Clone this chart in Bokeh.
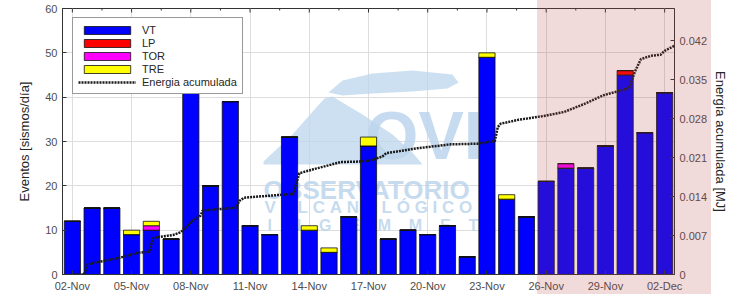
from bokeh.plotting import figure
from bokeh.models import (Range1d, LinearAxis, FixedTicker, Legend, LegendItem, Label,
                          ColumnDataSource, InlineStyleSheet, PolyAnnotation)
from bokeh.embed import file_html
from bokeh.resources import INLINE

# ---------------- data ----------------
dias = ["02-Nov", "03-Nov", "04-Nov", "05-Nov", "06-Nov", "07-Nov", "08-Nov", "09-Nov",
        "10-Nov", "11-Nov", "12-Nov", "13-Nov", "14-Nov", "15-Nov", "16-Nov", "17-Nov",
        "18-Nov", "19-Nov", "20-Nov", "21-Nov", "22-Nov", "23-Nov", "24-Nov", "25-Nov",
        "26-Nov", "27-Nov", "28-Nov", "29-Nov", "30-Nov", "01-Dec", "02-Dec"]
vt = [12, 15, 15, 9, 10, 8, 44, 20, 39, 11, 9, 31, 10, 5, 13, 29,
      8, 10, 9, 11, 4, 49, 17, 13, 21, 24, 24, 29, 45, 32, 41]
lp = [0, 0, 0, 0, 0, 0, 0, 0, 0, 0, 0, 0, 0, 0, 0, 0,
      0, 0, 0, 0, 0, 0, 0, 0, 0, 0, 0, 0, 1, 0, 0]
tor = [0, 0, 0, 0, 1, 0, 0, 0, 0, 0, 0, 0, 0, 0, 0, 0,
       0, 0, 0, 0, 0, 0, 0, 0, 0, 1, 0, 0, 0, 0, 0]
tre = [0, 0, 0, 1, 1, 0, 0, 0, 0, 0, 0, 0, 1, 1, 0, 2,
       0, 0, 0, 0, 0, 1, 1, 0, 0, 0, 0, 0, 0, 0, 0]

tick_pos = [0, 3, 6, 9, 12, 15, 18, 21, 24, 27, 30]
tick_labels = ["02-Nov", "05-Nov", "08-Nov", "11-Nov", "14-Nov", "17-Nov",
               "20-Nov", "23-Nov", "26-Nov", "29-Nov", "02-Dec"]
ev_ticks = [0, 10, 20, 30, 40, 50, 60]
en_ticks = [0, 0.007, 0.014, 0.021, 0.028, 0.035, 0.042]
en_tick_labels = ["0", "0.007", "0.014", "0.021", "0.028", "0.035", "0.042"]

# cumulative energy (days since 02-Nov, MJ)
energia_t = [0, 0.6, 0.75, 1.1, 2.4, 3.3, 3.9, 4.0, 4.1, 5.1, 5.5, 6.0, 6.5, 6.6, 8.3,
             8.45, 8.7, 11.2, 11.35, 11.5, 12.2, 13.6, 14.6, 15.1, 15.7, 15.9, 17.5,
             19.2, 20.5, 21.4, 21.55, 21.7, 22.6, 23.9, 24.9, 25.9, 26.9, 27.6, 28.2,
             28.5, 28.8, 29.3, 29.8, 30.0, 30.5]
energia_v = [0, 0, 0.0018, 0.0021, 0.0030, 0.0039, 0.0041, 0.0055, 0.0066, 0.0071,
             0.0076, 0.0094, 0.0106, 0.0115, 0.0120, 0.0132, 0.0138, 0.0145, 0.0165,
             0.0182, 0.0189, 0.0202, 0.0203, 0.0205, 0.0212, 0.0218, 0.0227, 0.0234,
             0.0235, 0.0240, 0.0265, 0.0271, 0.0278, 0.0285, 0.0292, 0.0306, 0.0322,
             0.0329, 0.0335, 0.0365, 0.0387, 0.0393, 0.0395, 0.0402, 0.0411]

shade_start = 23.55   # start of shaded period (days since 02-Nov)

FONT = "Liberation Sans"
TXT = "#4d4d4d"

W, H = 731, 294
BL, BR, BT, BB = 62, 57, 8, 18
X0, X1 = -0.5, 30.5
Y0, Y1 = 0, 60

src = ColumnDataSource(dict(x=list(range(len(dias))), dia=dias, vt=vt, lp=lp, tor=tor, tre=tre))
esrc = ColumnDataSource(dict(t=energia_t, e=energia_v))

# shaded period as a translucent overlay (extends beyond the frame like the reference)
frame_w = W - BL - BR
shade_left = BL + (shade_start - X0) / (X1 - X0) * frame_w
css = f"""
:host {{ position: relative; }}
:host::after {{
  content: ""; position: absolute; pointer-events: none; z-index: 50;
  left: {shade_left:.1f}px; top: 0px; width: {W - 20 - shade_left:.1f}px; height: {H}px;
  background: rgba(185, 70, 70, 0.2);
}}
"""

p = figure(width=W, height=H, output_backend="svg", toolbar_location=None,
           x_range=Range1d(X0, X1), y_range=Range1d(Y0, Y1),
           min_border_left=BL, min_border_right=BR, min_border_top=BT, min_border_bottom=BB)
p.stylesheets = [InlineStyleSheet(css=css)]
p.extra_y_ranges = {"en": Range1d(0, 0.0478)}
p.outline_line_color = "#333333"
p.background_fill_color = "white"
p.border_fill_color = "white"

# grid
p.xgrid.ticker = FixedTicker(ticks=tick_pos)
p.ygrid.ticker = FixedTicker(ticks=ev_ticks)
p.xgrid.grid_line_color = "#dddddd"
p.ygrid.grid_line_color = "#dddddd"

# watermark (logo + texts), in screen units from the frame's bottom-left
wm = "#bcd5ec"
volcano_x = [201, 230, 252, 262, 270, 280, 300, 330, 350, 360, 201]
volcano_y = [113, 140, 165, 176, 178, 172, 160, 140, 122, 110, 110]
cloud_x = [266, 280, 310, 350, 390, 396, 385, 350, 310, 280]
cloud_y = [182, 194, 201, 204, 200, 192, 186, 183, 181, 179]
p.add_layout(PolyAnnotation(xs=volcano_x, ys=volcano_y, xs_units="screen", ys_units="screen",
                            fill_color=wm, fill_alpha=0.75, line_alpha=0, level="underlay"))
p.add_layout(PolyAnnotation(xs=cloud_x, ys=cloud_y, xs_units="screen", ys_units="screen",
                            fill_color=wm, fill_alpha=0.75, line_alpha=0, level="underlay"))
for txt, x, y, fs in [("OVI", 303, 140, "68px"),
                      ("OBSERVATORIO", 201, 85, "26px"),
                      ("V\u00a0U\u00a0L\u00a0C\u00a0A\u00a0N\u00a0O\u00a0L\u00a0Ó\u00a0G\u00a0I\u00a0C\u00a0O", 202, 67, "17px"),
                      ("I\u00a0\u00a0\u00a0\u00a0N\u00a0\u00a0\u00a0\u00a0G\u00a0\u00a0\u00a0\u00a0E\u00a0\u00a0\u00a0\u00a0M\u00a0\u00a0\u00a0\u00a0M\u00a0\u00a0\u00a0\u00a0E\u00a0\u00a0\u00a0\u00a0T", 205, 49, "16px")]:
    p.add_layout(Label(x=x, y=y, x_units="screen", y_units="screen", text=txt,
                       text_font=FONT, text_font_style="bold", text_font_size=fs,
                       text_baseline="alphabetic",
                       text_color=wm, text_alpha=0.85, level="underlay"))

# bars
rs = p.vbar_stack(["vt", "lp", "tor", "tre"], x="x", width=0.82, source=src,
                  color=["#0000ff", "#ff0000", "#ff00ff", "#ffff00"],
                  line_color="#111111", line_width=0.8)

# energy line
ln = p.line("t", "e", source=esrc, y_range_name="en", line_color="#1a1a1a",
            line_width=2.5, line_dash="2 1")

# mirrored tick marks on the top edge
top_major = ColumnDataSource(dict(x=tick_pos, y0=[Y1] * len(tick_pos), y1=[Y1 - 0.9] * len(tick_pos)))
top_minor = ColumnDataSource(dict(x=[t + 1.5 for t in tick_pos[:-1]],
                                  y0=[Y1] * (len(tick_pos) - 1), y1=[Y1 - 0.45] * (len(tick_pos) - 1)))
p.segment(x0="x", y0="y0", x1="x", y1="y1", source=top_major, line_color="#333333", line_width=1)
p.segment(x0="x", y0="y0", x1="x", y1="y1", source=top_minor, line_color="#333333", line_width=1)

# axes
p.xaxis.ticker = FixedTicker(ticks=tick_pos)
p.xaxis.major_label_overrides = {t: l for t, l in zip(tick_pos, tick_labels)}
p.yaxis.ticker = FixedTicker(ticks=ev_ticks)
p.yaxis.axis_label = "Eventos [sismos/día]"

ax_r = LinearAxis(y_range_name="en", ticker=FixedTicker(ticks=en_ticks),
                  axis_label="Energía acumulada [MJ]")
ax_r.major_label_overrides = {t: l for t, l in zip(en_ticks, en_tick_labels)}
p.add_layout(ax_r, "right")

for ax in [p.xaxis[0], p.yaxis[0], ax_r]:
    ax.axis_line_color = "#333333"
    ax.major_tick_line_color = "#333333"
    ax.major_tick_in = 4
    ax.major_tick_out = 0
    ax.minor_tick_in = 0
    ax.minor_tick_out = 0
    ax.major_label_text_font = FONT
    ax.major_label_text_font_size = "11px"
    ax.major_label_text_color = TXT
    ax.axis_label_text_font = FONT
    ax.axis_label_text_font_size = "13px"
    ax.axis_label_text_font_style = "normal"
    ax.axis_label_text_color = "#262626"
p.yaxis[0].axis_label_standoff = 10
ax_r.axis_label_standoff = 3
p.xaxis[0].major_label_standoff = 5

# legend
legend = Legend(items=[LegendItem(label="VT", renderers=[rs[0]]),
                       LegendItem(label="LP", renderers=[rs[1]]),
                       LegendItem(label="TOR", renderers=[rs[2]]),
                       LegendItem(label="TRE", renderers=[rs[3]]),
                       LegendItem(label="Energia acumulada", renderers=[ln])],
                location=(10, 180), orientation="vertical",
                padding=5, spacing=0, margin=0,
                glyph_width=58, glyph_height=10, label_height=13, label_standoff=6,
                label_text_font=FONT, label_text_font_size="11px", label_text_color="#262626",
                border_line_color="#333333", border_line_width=1,
                background_fill_color="white", background_fill_alpha=1)
p.add_layout(legend, "center")

open("out.html", "w").write(file_html(p, INLINE))
